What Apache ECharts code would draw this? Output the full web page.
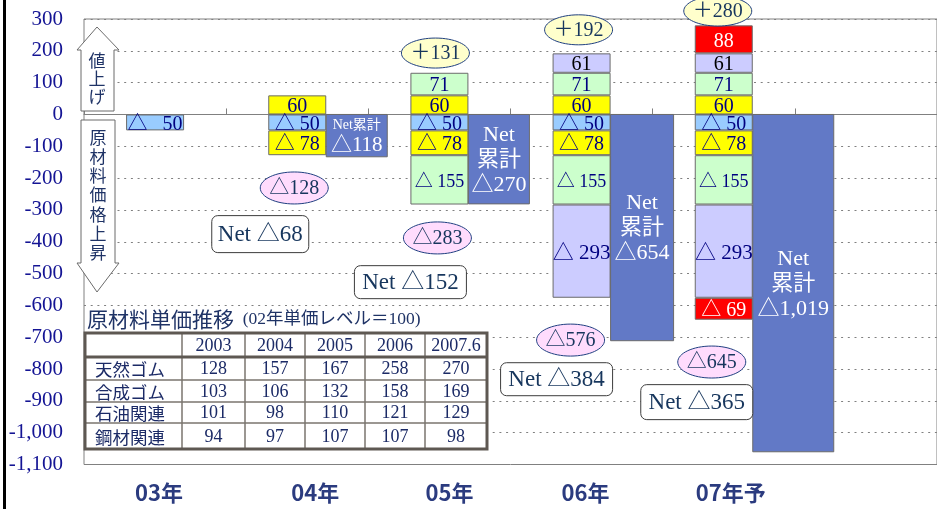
<!DOCTYPE html>
<html><head><meta charset="utf-8">
<script src="https://cdn.jsdelivr.net/npm/echarts@6/dist/echarts.min.js"></script>
<style>html,body{margin:0;padding:0;background:#fff}#c{width:937px;height:509px}</style>
</head><body><div id="c"></div>
<script>
// ---------------- data ----------------
const categories = ['03年', '04年', '05年', '06年', '07年予', ''];
const yMin = -1100, yMax = 300, yStep = 100;
// 値上げ (price increases, stacked upward)
const incYellow   = [null, 60, 60, 60, 60];
const incGreen    = [null, null, 71, 71, 71];
const incLavender = [null, null, null, 61, 61];
const incRed      = [null, null, null, null, 88];
// 原材料価格上昇 (raw material cost increases, stacked downward)
const costBlue     = [-50, -50, -50, -50, -50];
const costYellow   = [null, -78, -78, -78, -78];
const costGreen    = [null, null, -155, -155, -155];
const costLavender = [null, null, null, -293, -293];
const costRed      = [null, null, null, null, -69];
// Net累計 bars (extent as drawn in the picture) and their labels
const netCumulative     = [null, -133, -281, -711, -1060];
const netCumulativeText = ['', '△118', '△270', '△654', '△1,019'];
// callouts
const increaseTotalText = ['', '', '＋131', '＋192', '＋280'];
const costTotalText     = ['', '△128', '△283', '△576', '△645'];
const yearNetText       = ['', 'Net △68', 'Net △152', 'Net △384', 'Net △365'];
// 原材料単価推移 table
const tableTitle   = '原材料単価推移';
const tableNote    = '(02年単価レベル＝100)';
const tableYears   = ['2003', '2004', '2005', '2006', '2007.6'];
const tableRows    = ['天然ゴム', '合成ゴム', '石油関連', '鋼材関連'];
const naturalRubber   = [128, 157, 167, 258, 270];
const syntheticRubber = [103, 106, 132, 158, 169];
const petroleum       = [101, 98, 110, 121, 129];
const steel           = [94, 97, 107, 107, 98];

// ---------------- layout / style (not data) ----------------
const SERIF = "'Liberation Serif','Noto Sans CJK JP',serif";
const SANS = "'Noto Sans CJK JP',sans-serif";
const NAVY = '#000080';
const NOTE = '#17365d';
const BORDER = '#6b6b6b';
const STACK_W = 58;
const netBarWidths = [0, 61, 61, 63, 81];
const increaseAnchor = { y: [0, 0, 193, 266, 325], dx: [0, 0, -4, -3, -6] };
const costAnchor     = { y: [0, -231, -388, -709, -778], dx: [0, -3, -2, -11, -12] };
const yearNetAnchor  = { y: [0, -376, -527, -832, -904], dx: [0, -37, -29, -25, -27], w: [0, 97, 112, 112, 112], h: [0, 37, 33, 33, 35] };
const xLabelShift = [4, 18, 10, 4, 7, 0];

const chart = echarts.init(document.getElementById('c'), null, { renderer: 'canvas' });

function segSeries(name, data, color, labelColor, fontSize) {
  return {
    name, type: 'bar', stack: 'main', data, barWidth: STACK_W, silent: true,
    itemStyle: { color, borderColor: BORDER, borderWidth: 1 },
    label: {
      show: true, position: 'inside', offset: [0, 2],
      formatter: p => p.value < 0 ? (p.dataIndex === 0 ? '△   ' : '△ ') + (-p.value) : String(p.value),
      color: labelColor, fontFamily: SERIF, fontSize
    }
  };
}

function netSeries() {
  const data = [];
  netCumulative.forEach((v, i) => { if (v != null) data.push([i, v]); });
  return {
    type: 'custom', data, silent: true, z: 3, clip: false,
    renderItem(params, api) {
      const i = api.value(0), v = api.value(1);
      const p0 = api.coord([i, 0]), p1 = api.coord([i, v]);
      const w = netBarWidths[i];
      const x = p0[0] + STACK_W / 2;
      const txt = i === 1
        ? `{a|Net累計}\n{b|${netCumulativeText[i]}}`
        : `{c|Net}\n{c|累計}\n{c|${netCumulativeText[i]}}`;
      return {
        type: 'group', children: [
          { type: 'rect', shape: { x, y: p0[1], width: w, height: p1[1] - p0[1] },
            style: { fill: '#6279c6', stroke: BORDER, lineWidth: 1 } },
          { type: 'text', x: x + w / 2, y: (p0[1] + p1[1]) / 2 + 1,
            style: { text: txt, align: 'center', verticalAlign: 'middle', fill: '#fff',
              rich: {
                a: { fontSize: 14, fontFamily: SERIF, fill: '#fff', lineHeight: 17 },
                b: { fontSize: 21, fontFamily: SERIF, fill: '#fff', lineHeight: 22 },
                c: { fontSize: 22, fontFamily: SERIF, fill: '#fff', lineHeight: 25 }
              } } }
        ]
      };
    }
  };
}

function calloutSeries(texts, anchor, kind) {
  const data = [];
  texts.forEach((t, i) => { if (t) data.push([i, anchor.y[i], anchor.dx[i]]); });
  return {
    type: 'custom', data, silent: true, z: 6, clip: false,
    renderItem(params, api) {
      const i = api.value(0);
      const p = api.coord([i, api.value(1)]);
      const cx = p[0] + api.value(2), cy = p[1];
      let shape;
      if (kind === 'box') {
        const w = anchor.w[i], h = anchor.h[i];
        shape = { type: 'rect', shape: { x: cx - w / 2, y: cy - h / 2, width: w, height: h, r: 6 },
          style: { fill: '#fff', stroke: '#3c3c3c', lineWidth: 1 } };
      } else {
        shape = { type: 'ellipse', shape: { cx, cy, rx: 34, ry: kind === 'inc' ? 15 : 16 },
          style: { fill: kind === 'inc' ? '#ffffcc' : '#ffdcfd', stroke: '#1f3f80', lineWidth: 1 } };
      }
      return {
        type: 'group', children: [shape,
          { type: 'text', x: cx, y: cy + 1,
            style: { text: texts[i], align: 'center', verticalAlign: 'middle', fill: NOTE,
              fontFamily: SERIF, fontSize: kind === 'box' ? 23 : 20 } }]
      };
    }
  };
}

// ---------- decorative graphics: frame line, arrows, table ----------
const g = [];
g.push({ type: 'rect', shape: { x: 3, y: 0, width: 3, height: 509 }, style: { fill: '#000' }, z: 100 });
g.push({ type: 'polygon', z: 100, shape: { points: [[97, 27], [119, 50], [114, 50], [114, 111], [81, 111], [81, 50], [77, 50]] },
  style: { fill: '#fff', stroke: '#6b6b6b', lineWidth: 1 } });
g.push({ type: 'text', z: 101, x: 97, y: 79, style: { text: '値\n上\nげ', align: 'center', verticalAlign: 'middle',
  fontFamily: SANS, fontSize: 17, lineHeight: 18, fill: '#1f3366' } });
g.push({ type: 'polygon', z: 100, shape: { points: [[81, 120], [115, 120], [115, 263], [119, 263], [97, 292], [77, 263], [81, 263]] },
  style: { fill: '#fff', stroke: '#6b6b6b', lineWidth: 1 } });
g.push({ type: 'text', z: 101, x: 98, y: 195, style: { text: '原\n材\n料\n価\n格\n上\n昇', align: 'center', verticalAlign: 'middle',
  fontFamily: SANS, fontSize: 17, lineHeight: 19.3, fill: '#1f3366' } });

// table
const colX = [85, 182, 245, 305, 365, 425, 487];
const rowY = [333, 357, 380, 402, 423, 449];
const TCOL = '#1b2a66';
g.push({ type: 'text', z: 101, x: 87, y: 319, style: {
  text: `{t|${tableTitle}}{n|  ${tableNote}}`, verticalAlign: 'middle', align: 'left',
  rich: { t: { fontFamily: SANS, fontSize: 21, fill: '#1f3366' }, n: { fontFamily: SERIF, fontSize: 17.5, fill: '#1f3366' } } } });
g.push({ type: 'rect', z: 100, shape: { x: colX[0], y: rowY[0], width: colX[6] - colX[0], height: rowY[5] - rowY[0] }, style: { fill: '#fff' } });
for (let c = 1; c < 6; c++) {
  g.push({ type: 'line', z: 101, shape: { x1: colX[c], y1: rowY[0], x2: colX[c], y2: rowY[5] }, style: { stroke: '#7a746e', lineWidth: 1.5 } });
}
for (let r = 2; r < 5; r++) {
  g.push({ type: 'line', z: 101, shape: { x1: colX[0], y1: rowY[r], x2: colX[6], y2: rowY[r] }, style: { stroke: '#7a746e', lineWidth: 1.5 } });
}
g.push({ type: 'line', z: 102, shape: { x1: colX[0], y1: rowY[1], x2: colX[6], y2: rowY[1] }, style: { stroke: '#5e5852', lineWidth: 3 } });
g.push({ type: 'rect', z: 102, shape: { x: colX[0], y: rowY[0], width: colX[6] - colX[0], height: rowY[5] - rowY[0] },
  style: { fill: null, stroke: '#5e5852', lineWidth: 3 } });
tableYears.forEach((yr, c) => {
  g.push({ type: 'text', z: 103, x: (colX[c + 1] + colX[c + 2]) / 2, y: (rowY[0] + rowY[1]) / 2 + 1,
    style: { text: yr, align: 'center', verticalAlign: 'middle', fontFamily: SERIF, fontSize: 18, fill: TCOL } });
});
const tableValues = [naturalRubber, syntheticRubber, petroleum, steel];
tableRows.forEach((name, r) => {
  const cy = (rowY[r + 1] + rowY[r + 2]) / 2 + 1;
  g.push({ type: 'text', z: 103, x: 95, y: cy,
    style: { text: name, align: 'left', verticalAlign: 'middle', fontFamily: SANS, fontSize: 17.5, fill: TCOL } });
  tableValues[r].forEach((v, c) => {
    g.push({ type: 'text', z: 103, x: (colX[c + 1] + colX[c + 2]) / 2, y: cy,
      style: { text: String(v), align: 'center', verticalAlign: 'middle', fontFamily: SERIF, fontSize: 18, fill: TCOL } });
  });
});

const xRich = {};
xLabelShift.forEach((s, i) => {
  xRich['s' + i] = { padding: [0, 0, 0, 2 * s], fontFamily: SANS, fontWeight: 'bold', fontSize: 22, color: '#2b3b7f' };
});

chart.setOption({
  animation: false,
  grid: { left: 84, top: 19, width: 861, height: 445.5, show: true, borderColor: '#808080', borderWidth: 1, backgroundColor: 'transparent' },
  xAxis: [
    { type: 'category', data: categories, position: 'bottom',
      axisLine: { onZero: true, lineStyle: { color: '#808080', width: 1 } },
      axisTick: { show: true, inside: true, length: 6, lineStyle: { color: '#808080' } },
      axisLabel: { show: false }, splitLine: { show: false } },
    { type: 'category', data: categories, position: 'bottom',
      axisLine: { show: false, onZero: false }, axisTick: { show: false }, splitLine: { show: false },
      axisLabel: { show: true, margin: 17, interval: 0,
        formatter: (v, i) => v ? `{s${i}|${v}}` : '', rich: xRich } }
  ],
  yAxis: {
    type: 'value', min: yMin, max: yMax, interval: yStep,
    axisLine: { show: false }, axisTick: { show: false },
    axisLabel: { margin: 21, fontFamily: SERIF, fontSize: 21, color: '#141494',
      formatter: v => v.toLocaleString('en-US') },
    splitLine: { show: true, lineStyle: { color: '#808080', width: 1, type: [2, 4.7] } }
  },
  series: [
    segSeries('値上げ60', incYellow, '#ffff00', NAVY, 20),
    segSeries('値上げ71', incGreen, '#ccffcc', NAVY, 20),
    segSeries('値上げ61', incLavender, '#ccccff', '#000', 20),
    segSeries('値上げ88', incRed, '#ff0000', '#fff', 20),
    segSeries('原材料50', costBlue, '#99ccff', NAVY, 20),
    segSeries('原材料78', costYellow, '#ffff00', NAVY, 20),
    segSeries('原材料155', costGreen, '#ccffcc', NAVY, 18),
    segSeries('原材料293', costLavender, '#ccccff', NAVY, 21),
    segSeries('原材料69', costRed, '#ff0000', '#fff', 20),
    netSeries(),
    calloutSeries(increaseTotalText, increaseAnchor, 'inc'),
    calloutSeries(costTotalText, costAnchor, 'cost'),
    calloutSeries(yearNetText, yearNetAnchor, 'box')
  ],
  graphic: { elements: g }
});
</script></body></html>
